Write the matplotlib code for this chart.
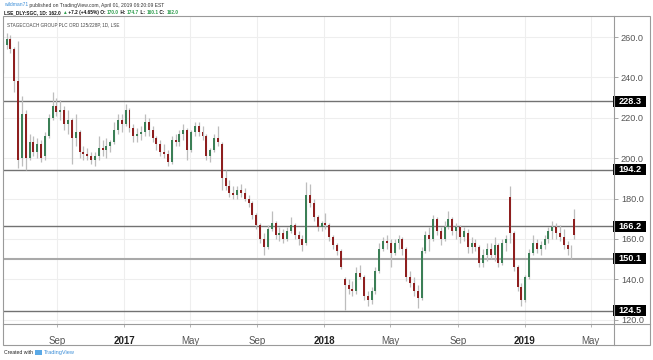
import matplotlib
matplotlib.use('Agg')
import matplotlib.pyplot as plt
import matplotlib.dates as mdates
import matplotlib.patches as mpatches
import matplotlib.transforms as mtransforms
import matplotlib.lines as mlines
import numpy as np
import pandas as pd

plt.rcParams['font.family'] = ['Liberation Sans', 'DejaVu Sans']

# ---------------- data (weekly candles) ----------------
first_week = '2016-05-25'
n_weeks = 149
last_day = '2019-04-01'

opens = [251, 256, 259, 254, 238, 200, 222, 200, 208, 203,
         207, 201, 211, 220, 226, 223, 224, 217, 219, 210,
         213, 203, 202, 201, 199, 201, 205, 204, 206, 208,
         214, 219, 217, 224, 215, 211, 212, 213, 218, 214,
         210, 207, 203, 202, 198, 209, 208, 212, 214, 204,
         213, 216, 213, 211, 201, 204, 210, 207, 190, 186,
         183, 182, 184, 183, 180, 178, 172, 167, 160, 156,
         165, 168, 162, 163, 160, 164, 167, 162, 160, 158,
         182, 178, 171, 166, 168, 167, 161, 157, 154, 140,
         137, 135, 134, 143, 141, 132, 130, 134, 144, 155,
         159, 158, 153, 158, 160, 155, 141, 138, 134, 131,
         154, 162, 160, 170, 164, 160, 166, 170, 164, 166,
         161, 163, 156, 158, 156, 148, 152, 155, 152, 157,
         148, 158, 181, 163, 146, 136, 130, 141, 153, 158,
         155, 157, 160, 164, 166, 163, 161, 157, 155, 170.0]
highs = [258, 262, 261, 255, 258, 231, 224, 212, 211, 210,
         209, 213, 222, 233, 230, 229, 226, 224, 220, 222,
         214, 206, 205, 203, 203, 211, 209, 210, 209, 218,
         222, 222, 227, 225, 217, 215, 216, 222, 220, 216,
         211, 209, 207, 204, 211, 212, 214, 217, 215, 214,
         218, 218, 216, 212, 205, 212, 216, 208, 194, 189,
         186, 186, 187, 185, 182, 179, 173, 168, 163, 167,
         174, 169, 166, 165, 166, 171, 168, 164, 162, 188,
         187, 180, 172, 169, 173, 168, 162, 158, 155, 141,
         140, 139, 146, 147, 142, 134, 136, 146, 158, 161,
         162, 160, 160, 162, 161, 156, 144, 141, 137, 156,
         164, 166, 172, 171, 166, 169, 174, 171, 168, 167,
         166, 165, 161, 160, 157, 155, 158, 158, 161, 158,
         160, 162, 186, 164, 147, 138, 142, 155, 162, 160,
         159, 162, 166, 169, 168, 167, 165, 159, 157, 174.7]
lows = [242, 254, 252, 233, 195, 196, 194, 199, 201, 200,
        198, 199, 210, 219, 221, 219, 214, 212, 197, 206,
        200, 199, 199, 197, 196, 199, 201, 200, 203, 207,
        212, 213, 216, 213, 208, 208, 209, 211, 211, 208,
        204, 201, 200, 196, 197, 206, 206, 209, 199, 203,
        211, 211, 209, 199, 198, 203, 206, 184, 184, 181,
        180, 180, 181, 179, 176, 170, 165, 158, 152, 155,
        164, 160, 159, 158, 159, 163, 160, 157, 154, 157,
        176, 169, 164, 164, 165, 159, 155, 152, 145, 125,
        133, 132, 133, 140, 130, 127, 128, 133, 143, 154,
        155, 146, 152, 155, 152, 139, 136, 132, 126, 130,
        153, 154, 159, 162, 157, 159, 165, 162, 160, 158,
        159, 153, 153, 154, 146, 146, 149, 150, 149, 146,
        147, 154, 158, 144, 134, 127, 129, 140, 152, 153,
        152, 155, 158, 160, 160, 159, 155, 152, 150, 160.1]
closes = [256, 259, 254, 238, 199, 222, 200, 208, 203, 207,
          200, 211, 220, 226, 223, 224, 217, 219, 210, 213,
          203, 202, 201, 199, 201, 205, 204, 206, 208, 214,
          219, 217, 224, 215, 211, 212, 213, 218, 214, 210,
          207, 203, 202, 198, 209, 208, 212, 214, 204, 213,
          216, 213, 211, 201, 204, 210, 208, 190, 186, 183,
          182, 184, 183, 180, 178, 172, 167, 160, 156, 165,
          168, 162, 163, 160, 164, 167, 162, 160, 157, 182,
          178, 171, 166, 168, 167, 161, 157, 154, 146, 137,
          135, 134, 143, 141, 132, 130, 134, 144, 155, 159,
          158, 153, 158, 160, 155, 141, 138, 134, 131, 154,
          162, 160, 170, 164, 160, 166, 170, 164, 166, 161,
          164, 156, 158, 156, 148, 152, 155, 152, 157, 148,
          158, 160, 163, 146, 136, 130, 141, 153, 158, 155,
          157, 160, 164, 166, 163, 161, 157, 155, 154.8, 162.0]

levels = [228.3, 194.2, 166.2, 150.1, 124.5]
price_ticks = [120, 140, 160, 180, 200, 220, 240, 260]
time_ticks = ['2016-09-01', '2017-01-01', '2017-05-01', '2017-09-01', '2018-01-01',
              '2018-05-01', '2018-09-01', '2019-01-01', '2019-05-01']
time_labels = ['Sep', '2017', 'May', 'Sep', '2018', 'May', 'Sep', '2019', 'May']

header1 = [('wildman71', '#3d8fd8'),
           (' published on TradingView.com, April 01, 2019 06:20:09 EST', '#333333')]
header2 = [('LSE_DLY:SGC, 1D: 162.0 ', '#111111'), ('\u25b2', '#2e9e4e'),
           (' +7.2 (+4.65%) O: ', '#111111'), ('170.0', '#2e9e4e'), (' H: ', '#111111'),
           ('174.7', '#2e9e4e'), (' L: ', '#111111'), ('160.1', '#2e9e4e'),
           (' C: ', '#111111'), ('162.0', '#2e9e4e')]
inner_title = 'STAGECOACH GROUP PLC ORD 125/228P, 1D, LSE'

# ---------------- figure ----------------
W, H = 653, 360
fig = plt.figure(figsize=(W / 100, H / 100), dpi=100)
fig.patch.set_facecolor('white')


def fx(px):
    return px / W


def fy(py):
    return 1 - py / H


L_PX, R_PX, T_PX, B_PX = 3, 614, 16, 324
ax = fig.add_axes([fx(L_PX), fy(B_PX), fx(R_PX) - fx(L_PX), fy(T_PX) - fy(B_PX)])

px_per_day = 0.549
x_left = mdates.date2num(pd.Timestamp('2017-01-01')) - (124 - L_PX) / px_per_day
x_right = x_left + (R_PX - L_PX) / px_per_day
ax.set_xlim(x_left, x_right)
ax.set_ylim(117.9, 270.4)

dates = list(pd.date_range(first_week, periods=n_weeks, freq='7D')) + [pd.Timestamp(last_day)]
xs = mdates.date2num(dates)
O = np.array(opens, float)
Hh = np.array(highs, float)
Lw = np.array(lows, float)
C = np.array(closes, float)
up = C >= O

# grid
for t in price_ticks:
    ax.axhline(t, color='#eeeeee', lw=0.8, zorder=0)
tt = mdates.date2num(pd.to_datetime(time_ticks))
for t in tt:
    ax.axvline(t, color='#eeeeee', lw=0.8, zorder=0)

# candles
ax.vlines(xs, Lw, Hh, color='#bdbdbd', lw=0.9, zorder=3)
ax.bar(xs[up], (C - O)[up], bottom=O[up], width=3.6, color='#3b7f56', zorder=4, linewidth=0)
ax.bar(xs[~up], (C - O)[~up], bottom=O[~up], width=3.6, color='#8e1f1f', zorder=4, linewidth=0)

# horizontal levels
for lv in levels:
    if lv == 150.1:
        ax.axhline(lv, color='#a9a9a9', lw=1.5, zorder=2)
    else:
        ax.axhline(lv, color='#727272', lw=1.0, zorder=2)

# axes styling
ax.yaxis.tick_right()
ax.set_yticks(price_ticks)
ax.set_yticklabels([f'{v:.1f}' for v in price_ticks])
ax.tick_params(axis='y', length=3, width=0.6, color='#9a9a9a', labelsize=6.6,
               labelcolor='#555555', pad=2)
ax.set_xticks(tt)
ax.set_xticklabels(time_labels)
ax.tick_params(axis='x', length=2, width=0.6, color='#aaaaaa', labelsize=7,
               labelcolor='#555555', pad=7)
for lbl in ax.get_xticklabels():
    if lbl.get_text().isdigit():
        lbl.set_fontweight('bold')
        lbl.set_color('#222222')
for s in ax.spines.values():
    s.set_visible(False)

# frame lines in figure pixels
frame_col = '#9a9a9a'
fig.add_artist(mpatches.Rectangle((fx(3), fy(345)), fx(650) - fx(3), fy(16) - fy(345),
                                  fill=False, edgecolor=frame_col, lw=0.8,
                                  transform=fig.transFigure))
fig.add_artist(mlines.Line2D([fx(3), fx(650)], [fy(324), fy(324)], color=frame_col, lw=0.8,
                             transform=fig.transFigure))
fig.add_artist(mlines.Line2D([fx(614), fx(614)], [fy(16), fy(345)], color=frame_col, lw=0.8,
                             transform=fig.transFigure))

# level labels
btr = mtransforms.blended_transform_factory(fig.transFigure, ax.transData)
box_h = 11 / 2.02
for lv in levels:
    rect = mpatches.Rectangle((fx(613), lv - box_h / 2), fx(646) - fx(613), box_h,
                              transform=btr, facecolor='black', edgecolor='none',
                              clip_on=False, zorder=20)
    ax.add_artist(rect)
    ax.text(fx(630), lv, f'{lv:.1f}', transform=btr, color='white', fontsize=6.6,
            fontweight='bold', ha='center', va='center', clip_on=False, zorder=21)

# ---------------- texts ----------------
fig.canvas.draw()
rend = fig.canvas.get_renderer()


def runs(x_px, y_px, parts, target_w, weight='normal'):
    base = 10
    tot = 0
    for s, c in parts:
        t = fig.text(0, 0, s, fontsize=base, fontweight=weight)
        tot += t.get_window_extent(rend).width
        t.remove()
    fs = base * target_w / tot
    x = x_px
    for s, c in parts:
        t = fig.text(fx(x), fy(y_px), s, fontsize=fs, color=c, fontweight=weight,
                     ha='left', va='center')
        x += t.get_window_extent(rend).width


runs(4, 5, header1, 160)
runs(4, 12.5, header2, 172, weight='bold')
runs(7, 25, [(inner_title, '#444444')], 113)
runs(4, 352.5, [('Created with', '#222222')], 29)
runs(44, 352.5, [('TradingView', '#3d8fd8')], 31)
fig.add_artist(mpatches.FancyBboxPatch((fx(35), fy(355)), fx(7), fy(350) - fy(355),
                                       boxstyle='round,pad=0', facecolor='#5aa9e6',
                                       edgecolor='none', transform=fig.transFigure))

fig.savefig('out.png', dpi=100, facecolor='white')
